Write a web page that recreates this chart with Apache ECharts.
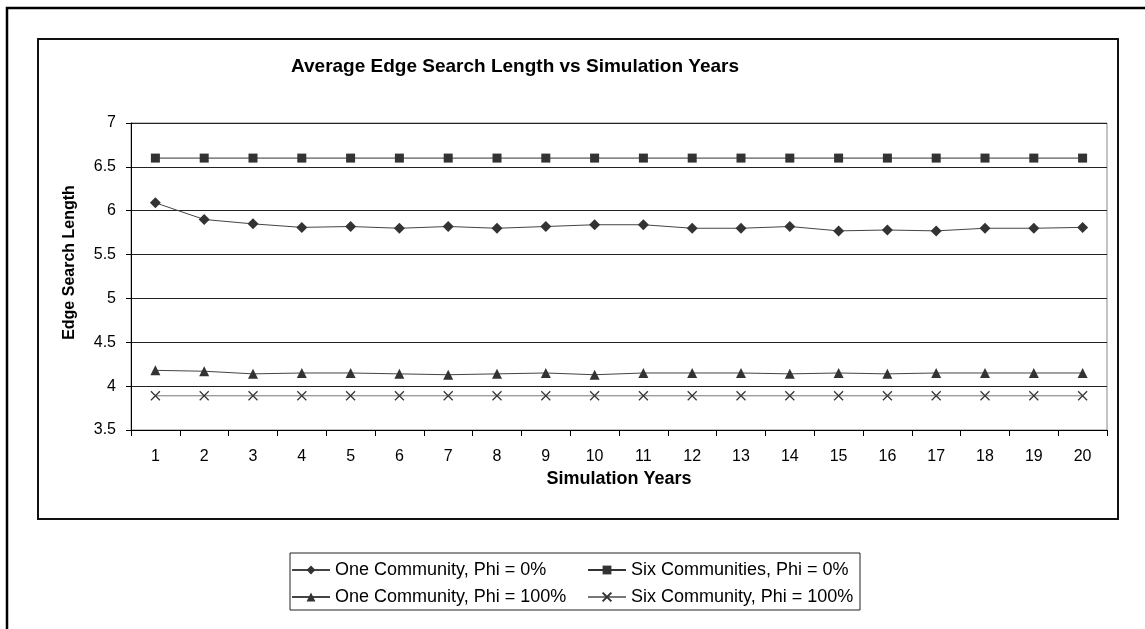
<!DOCTYPE html>
<html>
<head>
<meta charset="utf-8">
<script src="https://cdn.jsdelivr.net/npm/echarts@6/dist/echarts.min.js"></script>
<style>
  html, body { margin: 0; padding: 0; background: #fff; }
  #chart { width: 1145px; height: 629px; }
</style>
</head>
<body>
<div id="chart"></div>
<script>
// simulation years on the x axis
const years = ['1', '2', '3', '4', '5', '6', '7', '8', '9', '10',
  '11', '12', '13', '14', '15', '16', '17', '18', '19', '20']

// values
const oneCommPhi0 = [6.09, 5.90, 5.85, 5.81, 5.82, 5.80, 5.82, 5.80, 5.82, 5.84,
  5.84, 5.80, 5.80, 5.82, 5.77, 5.78, 5.77, 5.80, 5.80, 5.81]
const sixCommPhi0 = [6.6, 6.6, 6.6, 6.6, 6.6, 6.6, 6.6, 6.6, 6.6, 6.6,
  6.6, 6.6, 6.6, 6.6, 6.6, 6.6, 6.6, 6.6, 6.6, 6.6]
const oneCommPhi100 = [4.18, 4.17, 4.14, 4.15, 4.15, 4.14, 4.13, 4.14, 4.15, 4.13,
  4.15, 4.15, 4.15, 4.14, 4.15, 4.14, 4.15, 4.15, 4.15, 4.15]
const sixCommPhi100 = [3.89, 3.89, 3.89, 3.89, 3.89, 3.89, 3.89, 3.89, 3.89, 3.89,
  3.89, 3.89, 3.89, 3.89, 3.89, 3.89, 3.89, 3.89, 3.89, 3.89]

const seriesNames = [
  'One Community, Phi = 0%',
  'Six Communities, Phi = 0%',
  'One Community, Phi = 100%',
  'Six Community, Phi = 100%',
]

const font = '"Liberation Sans", Arial, sans-serif'
const crossSymbol = 'path://M0,0L10,10M10,0L0,10'

const makeLine = (name, data, symbol, size, lineColor) => ({
  name,
  type: 'line',
  data,
  symbol,
  symbolSize: size,
  showAllSymbol: true,
  animation: false,
  lineStyle: { color: lineColor, width: 1 },
  itemStyle: symbol === crossSymbol
    ? { color: 'none', borderColor: '#333', borderWidth: 1.2 }
    : { color: '#333' },
  emphasis: { disabled: true },
})

const legendText = { fontFamily: font, fontSize: 18, color: '#000', lineHeight: 20 }

const option = {
  backgroundColor: '#fff',
  animation: false,
  title: {
    text: 'Average Edge Search Length vs Simulation Years',
    left: 291,
    top: 57,
    padding: 0,
    textStyle: { fontFamily: font, fontSize: 19, fontWeight: 'bold', color: '#000' },
  },
  graphic: [
    // outer frame, cut off at the right and bottom
    { type: 'rect', shape: { x: 7, y: 8, width: 2000, height: 2000 },
      style: { fill: 'none', stroke: '#000', lineWidth: 2.5 }, silent: true },
    // chart area frame
    { type: 'rect', shape: { x: 38, y: 39, width: 1080, height: 480 },
      style: { fill: 'none', stroke: '#111', lineWidth: 2 }, silent: true },
    // legend frame
    { type: 'rect', shape: { x: 290, y: 553, width: 570, height: 57 },
      style: { fill: 'none', stroke: '#222', lineWidth: 1 }, silent: true },
  ],
  legend: [
    {
      data: [seriesNames[0], seriesNames[2]],
      orient: 'vertical',
      left: 291,
      top: 560,
      padding: 0,
      itemGap: 7,
      itemWidth: 38,
      itemHeight: 11,
      selectedMode: false,
      textStyle: legendText,
    },
    {
      data: [seriesNames[1], seriesNames[3]],
      orient: 'vertical',
      left: 587,
      top: 560,
      padding: 0,
      itemGap: 7,
      itemWidth: 38,
      itemHeight: 11,
      selectedMode: false,
      textStyle: legendText,
    },
  ],
  grid: {
    left: 131,
    right: 38,
    top: 123,
    bottom: 199,
    show: true,
    borderColor: '#888',
    borderWidth: 1,
  },
  xAxis: {
    type: 'category',
    data: years,
    boundaryGap: true,
    name: 'Simulation Years',
    nameLocation: 'middle',
    nameGap: 40,
    nameTextStyle: { fontFamily: font, fontSize: 18, fontWeight: 'bold', color: '#000' },
    axisLine: { lineStyle: { color: '#000', width: 1 } },
    axisTick: { show: true, inside: false, length: 6, lineStyle: { color: '#000' } },
    axisLabel: { fontFamily: font, fontSize: 16, color: '#000', margin: 19, interval: 0 },
    splitLine: { show: false },
  },
  yAxis: {
    type: 'value',
    min: 3.5,
    max: 7,
    interval: 0.5,
    name: 'Edge Search Length',
    nameLocation: 'middle',
    nameGap: 53,
    nameTextStyle: {
      fontFamily: font, fontSize: 16, fontWeight: 'bold', color: '#000',
      padding: [0, 0, 0, 28],
    },
    axisLine: { show: true, lineStyle: { color: '#000', width: 1 } },
    axisTick: { show: true, inside: false, length: 5, lineStyle: { color: '#000' } },
    axisLabel: { fontFamily: font, fontSize: 16, color: '#000', margin: 15 },
    splitLine: { show: true, lineStyle: { color: '#222', width: 1 } },
  },
  series: [
    makeLine(seriesNames[0], oneCommPhi0, 'diamond', 11, '#444'),
    makeLine(seriesNames[1], sixCommPhi0, 'rect', 9, '#333'),
    makeLine(seriesNames[2], oneCommPhi100, 'triangle', 10, '#444'),
    makeLine(seriesNames[3], sixCommPhi100, crossSymbol, 9, '#777'),
  ],
}

const mychart = echarts.init(document.getElementById('chart'))
mychart.setOption(option)
window.addEventListener('resize', () => mychart.resize())
</script>
</body>
</html>
